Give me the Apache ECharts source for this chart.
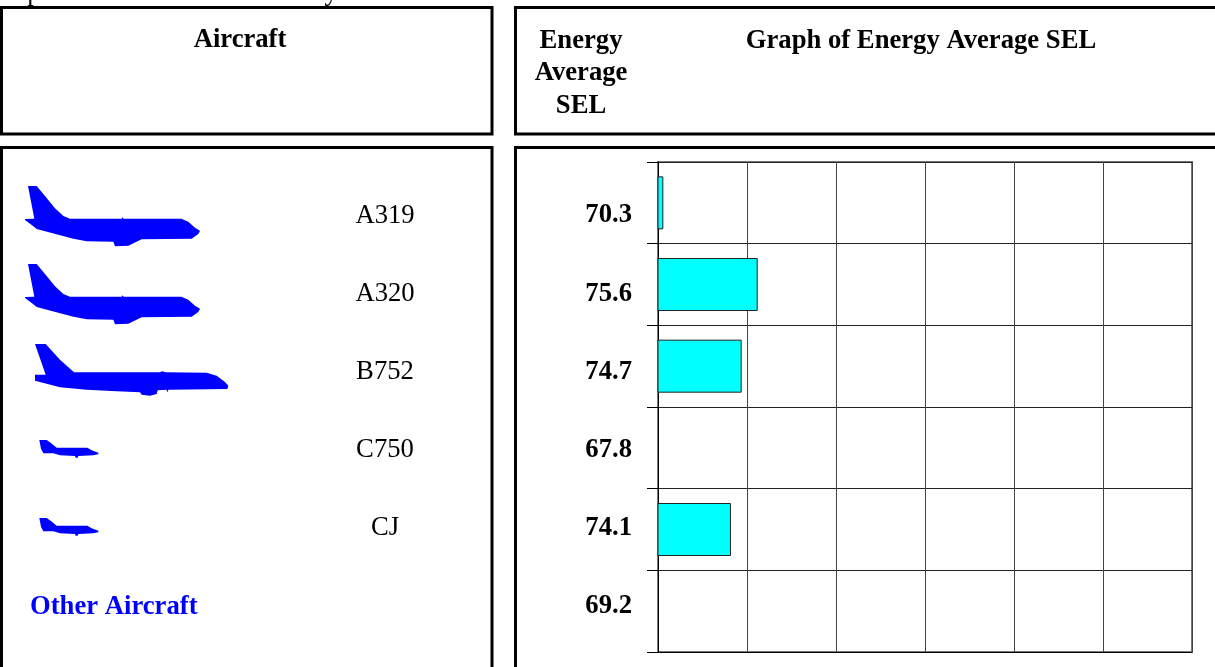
<!DOCTYPE html>
<html>
<head>
<meta charset="utf-8">
<style>html,body{margin:0;padding:0;background:#fff}#c{width:1215px;height:667px}</style>
<script src="https://cdn.jsdelivr.net/npm/echarts@6/dist/echarts.min.js"></script>
</head>
<body>
<div id="c"></div>
<script>
const aircraft = ['A319', 'A320', 'B752', 'C750', 'CJ', 'Other Aircraft'];
const energyAverageSEL = [70.3, 75.6, 74.7, 67.8, 74.1, 69.2];
const otherRow = 'Other Aircraft';

const serif = '"Liberation Serif", serif';
const jetOutline = [[24,18],[50,18],[75,48],[105,85],[130,108],[150,116],[305,116],[308,112],[311,116],[484,116],[505,125],[525,143],[540,152],[535,162],[515,176],[365,178],[325,197],[285,199],[280,185],[200,184],[160,176],[50,147],[38,137],[15,120],[15,117],[43,116]];
const widebodyOutline = [[30,18],[62,18],[105,65],[147,103],[405,103],[412,100],[422,103],[545,104],[575,113],[600,132],[610,143],[607,153],[430,155],[428,163],[424,155],[398,157],[395,168],[375,173],[350,170],[345,163],[275,160],[185,155],[105,148],[30,128],[30,110],[62,110]];
const bizjetOutline = [[28,24],[50,24],[62,32],[80,47],[172,47],[185,55],[205,62],[205,67],[190,70],[145,72],[143,77],[137,77],[135,72],[90,70],[70,64],[40,64],[33,50]];

const box = (x, y, w, h) => ({ type: 'rect', silent: true, shape: { x, y, width: w, height: h }, style: { fill: 'none', stroke: '#000', lineWidth: 3 } });
const txt = (text, x, y, font, align, fill) => ({ type: 'text', silent: true, x, y, style: { text, font, fill: fill || '#000', align: align || 'left', verticalAlign: 'top' } });
const plane = (points, x, y) => ({ type: 'polygon', silent: true, x, y, scaleX: 1 / 3, scaleY: 1 / 3, shape: { points }, style: { fill: '#0000ff' } });
const headFont = 'bold 26.67px ' + serif;
const topFont = '26.67px ' + serif;

const option = {
  animation: false,
  backgroundColor: '#fff',
  graphic: { elements: [
    box(1.5, 7.5, 490.5, 126.5),
    box(1.5, 147.5, 490.5, 600),
    box(515.5, 7.5, 800, 126.5),
    box(515.5, 147.5, 800, 600),
    txt('Operation:', 8, -20.5, topFont),
    txt('All', 187, -20.5, topFont),
    txt('Runway:', 249, -20.5, topFont),
    txt('Tracks', 420, -20.5, topFont),
    txt('Aircraft', 240, 27, headFont, 'center'),
    txt('Energy', 581, 27.5, headFont, 'center'),
    txt('Average', 581, 60, headFont, 'center'),
    txt('SEL', 581, 93, headFont, 'center'),
    txt('Graph of Energy Average SEL', 921, 27.5, headFont, 'center'),
    plane(jetOutline, 20, 180),
    plane(jetOutline, 20, 258),
    plane(widebodyOutline, 25, 338),
    plane(bizjetOutline, 30, 432),
    plane(bizjetOutline, 30, 510)
  ] },
  grid: [
    { left: 658, top: 162, width: 534, height: 490, show: true, borderColor: '#777', borderWidth: 2, backgroundColor: 'transparent' },
    { left: 385, top: 176.5, width: 1, height: 469 },
    { left: 632, top: 176.5, width: 1, height: 469 },
    { left: 30, top: 177, width: 1, height: 469 }
  ],
  xAxis: [
    { gridIndex: 0, type: 'value', min: 70, max: 100, interval: 5,
      axisLabel: { show: false }, axisTick: { show: false },
      axisLine: { show: true, onZero: false, lineStyle: { color: '#000', width: 1 } },
      splitLine: { show: true, lineStyle: { color: '#444', width: 1 } } },
    { gridIndex: 1, type: 'value', show: false },
    { gridIndex: 2, type: 'value', show: false },
    { gridIndex: 3, type: 'value', show: false }
  ],
  yAxis: [
    { gridIndex: 0, type: 'category', inverse: true, data: aircraft,
      axisLabel: { show: false },
      axisTick: { show: true, length: 11, alignWithLabel: false, lineStyle: { color: '#000', width: 1 } },
      axisLine: { show: true, onZero: false, lineStyle: { color: '#000', width: 1 } },
      splitLine: { show: true, lineStyle: { color: '#222', width: 1 } } },
    { gridIndex: 1, type: 'category', inverse: true, data: aircraft,
      axisLine: { show: false }, axisTick: { show: false }, splitLine: { show: false },
      axisLabel: { margin: 0, align: 'center', interval: 0, fontFamily: serif, fontSize: 26.67, color: '#000',
        formatter: v => v === otherRow ? '' : v } },
    { gridIndex: 2, type: 'category', inverse: true, data: energyAverageSEL.map(String),
      axisLine: { show: false }, axisTick: { show: false }, splitLine: { show: false },
      axisLabel: { margin: 0, align: 'right', interval: 0, fontFamily: serif, fontSize: 26.67, fontWeight: 'bold', color: '#000' } },
    { gridIndex: 3, type: 'category', inverse: true, data: aircraft,
      axisLine: { show: false }, axisTick: { show: false }, splitLine: { show: false },
      axisLabel: { margin: 0, align: 'left', interval: 0, fontFamily: serif, fontSize: 26.67, fontWeight: 'bold', color: '#0000ff',
        formatter: v => v === otherRow ? v : '' } }
  ],
  series: [{
    type: 'bar', xAxisIndex: 0, yAxisIndex: 0, data: energyAverageSEL,
    barWidth: 53, clip: true,
    itemStyle: { color: '#00ffff', borderColor: '#222', borderWidth: 1 },
    silent: true
  }]
};
echarts.init(document.getElementById('c'), null, { renderer: 'canvas' }).setOption(option);
</script>
</body>
</html>
